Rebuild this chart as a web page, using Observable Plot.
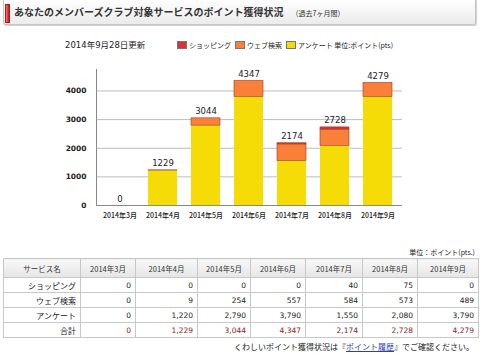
<!DOCTYPE html>
<html><head><meta charset="utf-8">
<script src="https://cdn.jsdelivr.net/npm/d3@7"></script>
<script src="https://cdn.jsdelivr.net/npm/@observablehq/plot@0.6"></script>
<style>
body{margin:0;background:#fff;font-family:"Noto Sans CJK JP",sans-serif;color:#222;}
#page{position:relative;width:480px;height:355px;overflow:hidden;}
.hdr{position:absolute;left:3px;top:-2px;width:471px;height:25px;border:1px solid #c4c4c4;background:linear-gradient(#fff,#ebebeb);box-shadow:1px 1px 1px #d0d0d0;border-radius:2px;}
.mark{position:absolute;left:5px;top:4px;width:3px;height:17px;background:linear-gradient(90deg,#f77,#c11);border:1px solid #922;}
.title{position:absolute;left:14px;top:4px;font-size:10px;font-weight:bold;color:#333;line-height:16px;white-space:nowrap;}
.title span{font-size:7px;font-weight:normal;margin-left:8px;}
.upd{position:absolute;left:65px;top:39px;font-size:8.5px;font-family:"DejaVu Sans","Noto Sans CJK JP",sans-serif;line-height:12px;white-space:nowrap;}
.legend{position:absolute;left:177px;top:39px;font-size:7px;line-height:12px;white-space:nowrap;display:flex;align-items:center;}
.legend .sw{display:inline-block;width:8px;height:6px;border:1px solid #777;margin-right:2px;}
.legend .it{display:flex;align-items:center;margin-right:4px;}
#chart{position:absolute;left:0;top:55px;}
.unit{position:absolute;right:5px;top:247px;font-size:7px;line-height:10px;white-space:nowrap;}
table{position:absolute;left:3px;top:258px;border-collapse:collapse;table-layout:fixed;font-size:7.5px;}
td,th{border:1px solid #c8c8c8;padding:0 4px;white-space:nowrap;}
th{background:linear-gradient(#f8f8f8,#e6e6e6);font-weight:normal;text-align:center;height:18px;color:#333;}
td{height:14px;text-align:right;font-family:"DejaVu Sans","Noto Sans CJK JP",sans-serif;}
td.lab{font-family:"Noto Sans CJK JP",sans-serif;font-size:8px;}
tr.tot td{color:#8a1c1c;}
tr.tot td.lab{color:#222;}
.note{position:absolute;right:6px;top:341px;font-size:8px;line-height:11px;white-space:nowrap;}
.note a{color:#2b3fb0;text-decoration:underline;}
</style></head>
<body><div id="page">
<div class="hdr"></div><div class="mark"></div>
<div class="title" id="title"></div>
<div class="upd" id="upd"></div>
<div class="legend" id="legend"></div>
<div id="chart"></div>
<div class="unit" id="unit"></div>
<table id="tbl"></table>
<div class="note" id="note"></div>
</div>
<script>
const titleText = "あなたのメンバーズクラブ対象サービスのポイント獲得状況";
const titleSub = "（過去7ヶ月間）";
const updatedText = "2014年9月28日更新";
const months = ["2014年3月","2014年4月","2014年5月","2014年6月","2014年7月","2014年8月","2014年9月"];
const seriesNames = ["ショッピング","ウェブ検索","アンケート"];
const shopping = [0,0,0,0,40,75,0];
const webSearch = [0,9,254,557,584,573,489];
const survey = [0,1220,2790,3790,1550,2080,3790];
const totals = [0,1229,3044,4347,2174,2728,4279];
const yTicks = [0,1000,2000,3000,4000];
const legendUnit = "単位:ポイント(pts)";
const tableHeadFirst = "サービス名";
const totalLabel = "合計";
const tableUnit = "単位：ポイント(pts.)";
const notePre = "くわしいポイント獲得状況は『", noteLink = "ポイント履歴", notePost = "』でご確認ください。";

const seriesColors = {"ショッピング":"#d8333a","ウェブ検索":"#fa803a","アンケート":"#f6dc06"};
const seriesValues = {"ショッピング":shopping,"ウェブ検索":webSearch,"アンケート":survey};

document.getElementById("title").innerHTML = titleText + "<span>" + titleSub + "</span>";
document.getElementById("upd").textContent = updatedText;
const lg = document.getElementById("legend");
seriesNames.forEach((s,i) => {
  const it = document.createElement("div"); it.className = "it";
  it.innerHTML = `<span class="sw" style="background:${seriesColors[s]}"></span><span>${s}${i===seriesNames.length-1 ? " " + legendUnit : ""}</span>`;
  lg.appendChild(it);
});

// stack order bottom -> top
const stackOrder = ["アンケート","ウェブ検索","ショッピング"];
const rows = [];
stackOrder.forEach(s => seriesValues[s].forEach((v,i) => rows.push({month: months[i], series: s, value: v})));
const totalRows = months.map((m,i) => ({month: m, total: totals[i]}));

const chart = Plot.plot({
  width: 480, height: 175,
  marginLeft: 96, marginRight: 78, marginTop: 14, marginBottom: 25,
  style: {fontFamily: '"DejaVu Sans","Noto Sans CJK JP",sans-serif', fontSize: "7.5px", color: "#222", background: "transparent"},
  x: {domain: months, paddingInner: 0.32, paddingOuter: 0.14, label: null},
  y: {domain: [0, 4750], label: null},
  color: {domain: seriesNames, range: seriesNames.map(s => seriesColors[s])},
  marks: [
    Plot.gridY(yTicks.filter(t => t > 0), {stroke: "#bdbdbd", strokeOpacity: 1}),
    Plot.barY(rows, {x: "month", y: "value", fill: "series", stroke: "#9a3d1e", strokeWidth: 0.6,
      strokeOpacity: d => d.series === "アンケート" ? 0 : 1}),
    Plot.frame({anchor: "left", stroke: "#888"}),
    Plot.ruleY([0], {stroke: "#888"}),
    Plot.axisY({ticks: yTicks, tickFormat: d => String(d), tickSize: 0, tickPadding: 10, label: null, fontWeight: "bold", fontSize: 7.5}),
    Plot.axisX({tickSize: 0, tickPadding: 8, label: null, fontFamily: '"Noto Sans CJK JP",sans-serif', fontSize: 7, fontWeight: 500}),
    Plot.text(totalRows, {x: "month", y: "total", text: d => String(d.total), dy: -4, lineAnchor: "bottom", fontSize: 8.5})
  ]
});
document.getElementById("chart").appendChild(chart);

document.getElementById("unit").textContent = tableUnit;
const colW = [77,55,62,53,55,57,55,61];
const fmt = d3.format(",");
let html = "<colgroup>" + colW.map(w => `<col style="width:${w}px">`).join("") + "</colgroup>";
html += "<tr><th>" + tableHeadFirst + "</th>" + months.map(m => `<th>${m}</th>`).join("") + "</tr>";
seriesNames.forEach(s => {
  html += `<tr><td class="lab">${s}</td>` + seriesValues[s].map(v => `<td>${fmt(v)}</td>`).join("") + "</tr>";
});
html += `<tr class="tot"><td class="lab">${totalLabel}</td>` + totals.map(v => `<td>${fmt(v)}</td>`).join("") + "</tr>";
document.getElementById("tbl").innerHTML = html;
document.getElementById("note").innerHTML = `${notePre}<a>${noteLink}</a>${notePost}`;
</script>
</body></html>
